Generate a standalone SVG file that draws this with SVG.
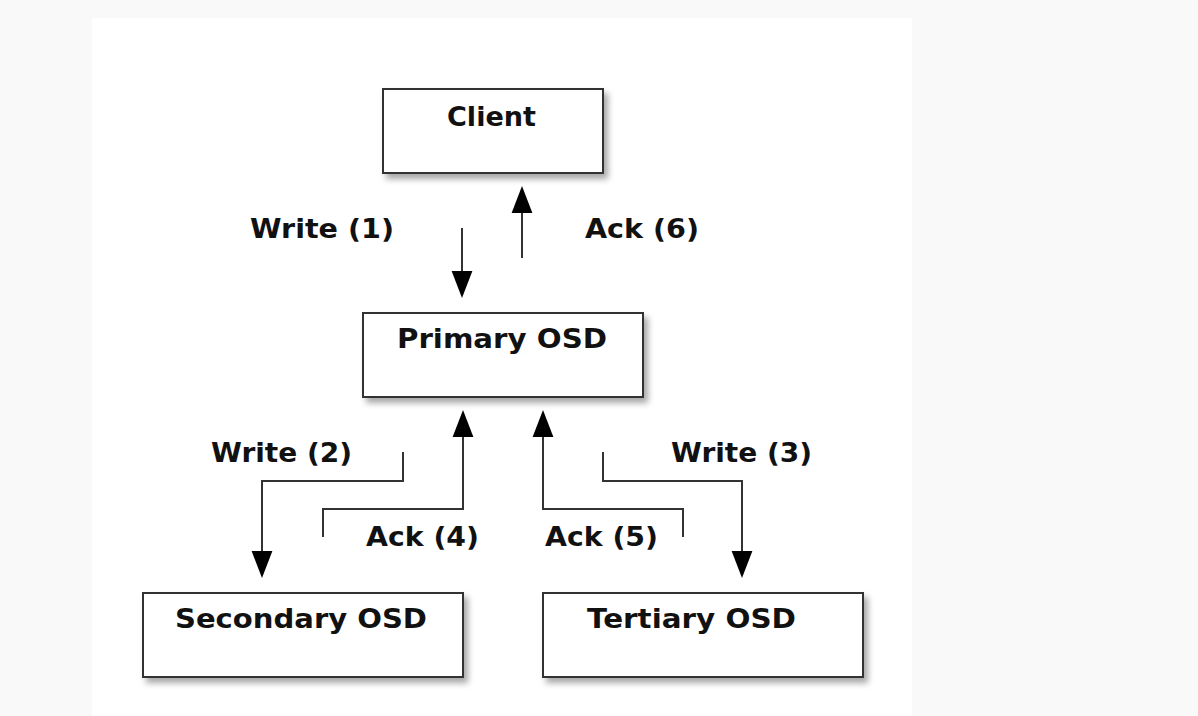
<svg xmlns="http://www.w3.org/2000/svg" width="1198" height="716" viewBox="0 0 1198 716">
<style>
.box{fill:#ffffff;stroke:#333333;stroke-width:2}
.lbl{font-family:"DejaVu Sans","Liberation Sans",sans-serif;font-weight:bold;font-size:27px;fill:#111111}
.con{fill:none;stroke:#333333;stroke-width:2}
</style>
<defs>
<filter id="sh" x="-20%" y="-30%" width="140%" height="160%">
<feDropShadow dx="4" dy="5" stdDeviation="3" flood-color="#000000" flood-opacity="0.35"/>
</filter>
<marker id="ah" markerUnits="userSpaceOnUse" markerWidth="27" markerHeight="22" viewBox="0 0 26 20" refX="0" refY="10" orient="auto">
<path d="M0,0 L26,10 L0,20 z" fill="#000000"/>
</marker>
</defs>
<rect x="0" y="0" width="1198" height="716" fill="#f9f9f9"/>
<rect x="92" y="18" width="820" height="698" fill="#ffffff"/>

<g id="connectors">
<path class="con" d="M462,228 V271" marker-end="url(#ah)"/>
<path class="con" d="M522,258 V213" marker-end="url(#ah)"/>
<path class="con" d="M403,452 V481 H262 V551" marker-end="url(#ah)"/>
<path class="con" d="M323,537 V509 H463 V437" marker-end="url(#ah)"/>
<path class="con" d="M683,537 V509 H543 V437" marker-end="url(#ah)"/>
<path class="con" d="M603,452 V481 H742 V551" marker-end="url(#ah)"/>
<text class="lbl" x="250" y="238" textLength="144" lengthAdjust="spacingAndGlyphs">Write (1)</text>
<text class="lbl" x="585" y="238" textLength="114" lengthAdjust="spacingAndGlyphs">Ack (6)</text>
<text class="lbl" x="211" y="462" textLength="141" lengthAdjust="spacingAndGlyphs">Write (2)</text>
<text class="lbl" x="366" y="546" textLength="113" lengthAdjust="spacingAndGlyphs">Ack (4)</text>
<text class="lbl" x="545" y="546" textLength="113" lengthAdjust="spacingAndGlyphs">Ack (5)</text>
<text class="lbl" x="671" y="462" textLength="141" lengthAdjust="spacingAndGlyphs">Write (3)</text>
</g>

<g id="client">
<rect class="box" x="383" y="89" width="220" height="84" filter="url(#sh)"/>
<text class="lbl" x="447" y="126" textLength="89" lengthAdjust="spacingAndGlyphs">Client</text>
</g>
<g id="primary-osd">
<rect class="box" x="363" y="313" width="280" height="84" filter="url(#sh)"/>
<text class="lbl" x="397" y="348" textLength="210" lengthAdjust="spacingAndGlyphs">Primary OSD</text>
</g>
<g id="secondary-osd">
<rect class="box" x="143" y="593" width="320" height="84" filter="url(#sh)"/>
<text class="lbl" x="175" y="628" textLength="252" lengthAdjust="spacingAndGlyphs">Secondary OSD</text>
</g>
<g id="tertiary-osd">
<rect class="box" x="543" y="593" width="320" height="84" filter="url(#sh)"/>
<text class="lbl" x="587" y="628" textLength="209" lengthAdjust="spacingAndGlyphs">Tertiary OSD</text>
</g>
</svg>
